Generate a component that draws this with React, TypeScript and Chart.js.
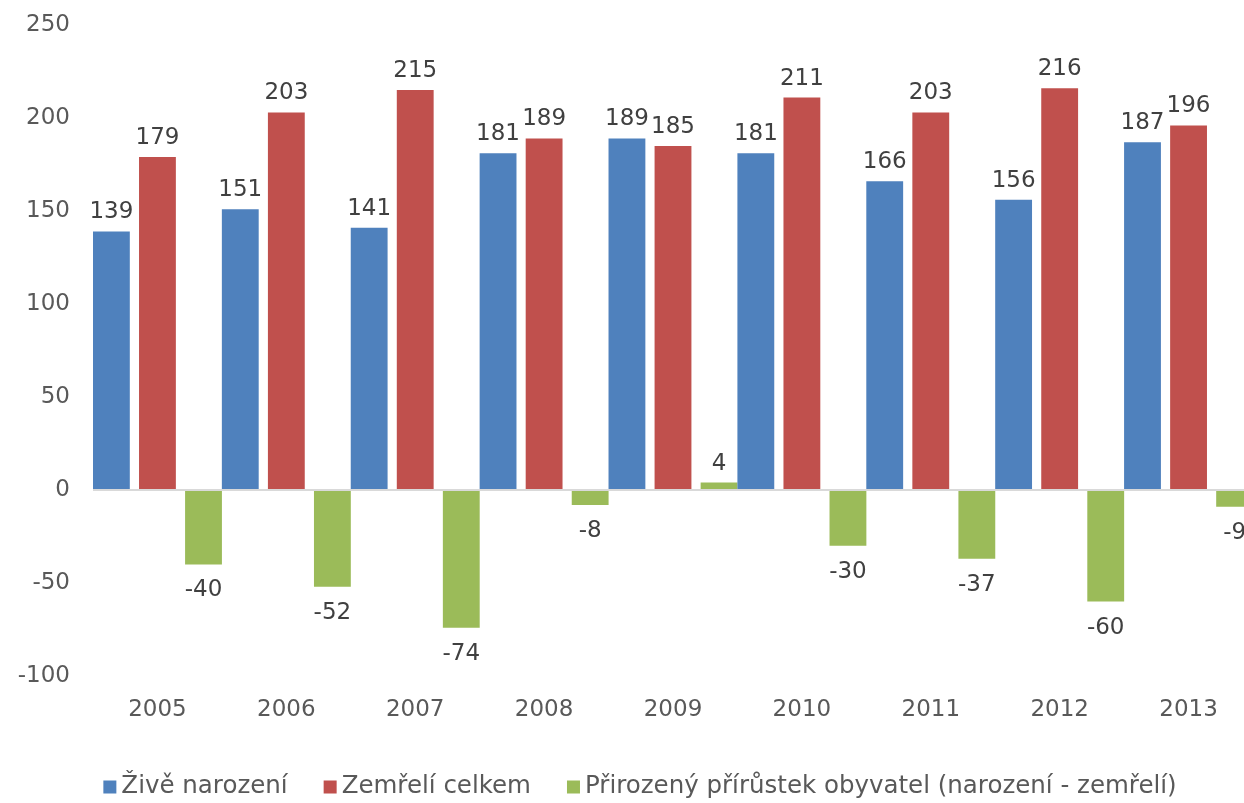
import React, { useEffect, useRef } from "react";
import { Chart, registerables } from "chart.js";

Chart.register(...registerables);

const years = ["2005", "2006", "2007", "2008", "2009", "2010", "2011", "2012", "2013"];
const births = [139, 151, 141, 181, 189, 181, 166, 156, 187];
const deaths = [179, 203, 215, 189, 185, 211, 203, 216, 196];
const naturalIncrease = [-40, -52, -74, -8, 4, -30, -37, -60, -9];
const seriesLabels = [
  "Živě narození",
  "Zemřelí celkem",
  "Přirozený přírůstek obyvatel (narození - zemřelí)",
];
const seriesColors = ["#4F81BD", "#C0504D", "#9BBB59"];
const yMin = -100;
const yMax = 250;
const yStep = 50;

const FONT = "'DejaVu Sans', Verdana, sans-serif";
const FONT_SIZE = 23;
const LEGEND_FONT_SIZE = 24.5;

const dataLabelPlugin = {
  id: "dataLabels",
  afterDatasetsDraw(chart: any) {
    const ctx = chart.ctx;
    ctx.save();
    ctx.font = `${FONT_SIZE}px ${FONT}`;
    ctx.fillStyle = "#404040";
    ctx.textAlign = "center";
    ctx.textBaseline = "alphabetic";
    chart.data.datasets.forEach((ds: any, di: number) => {
      const meta = chart.getDatasetMeta(di);
      meta.data.forEach((bar: any, i: number) => {
        const v = ds.data[i];
        const { x, y } = bar.getProps(["x", "y"], true);
        if (v >= 0) ctx.fillText(String(v), x, y - 13);
        else ctx.fillText(String(v), x, y + 32);
      });
    });
    ctx.restore();
  },
};

const legendPlugin = {
  id: "customLegend",
  afterDraw(chart: any) {
    const ctx = chart.ctx;
    ctx.save();
    ctx.font = `${LEGEND_FONT_SIZE}px ${FONT}`;
    const box = 13;
    const gapText = 5;
    const gapItem = 36;
    const items = chart.data.datasets.map((ds: any) => ({
      label: ds.label,
      color: ds.backgroundColor,
      w: ctx.measureText(ds.label).width,
    }));
    const total =
      items.reduce((s: number, it: any) => s + box + gapText + it.w, 0) +
      gapItem * (items.length - 1);
    let x = 640 - total / 2;
    const cy = 787;
    ctx.textBaseline = "middle";
    ctx.textAlign = "left";
    items.forEach((it: any) => {
      ctx.fillStyle = it.color;
      ctx.fillRect(x, cy - box / 2, box, box);
      x += box + gapText;
      ctx.fillStyle = "#595959";
      ctx.fillText(it.label, x, cy);
      x += it.w + gapItem;
    });
    ctx.restore();
  },
};

export default function App() {
  const canvasRef = useRef<HTMLCanvasElement | null>(null);

  useEffect(() => {
    if (!canvasRef.current) return;
    const chart = new Chart(canvasRef.current, {
      type: "bar",
      data: {
        labels: years,
        datasets: [
          { label: seriesLabels[0], data: births, backgroundColor: seriesColors[0] },
          { label: seriesLabels[1], data: deaths, backgroundColor: seriesColors[1] },
          { label: seriesLabels[2], data: naturalIncrease, backgroundColor: seriesColors[2] },
        ],
      },
      options: {
        responsive: false,
        animation: false,
        devicePixelRatio: 1,
        layout: { padding: { top: 25, left: 0, right: 0, bottom: 0 } },
        datasets: {
          bar: { categoryPercentage: 1.072, barPercentage: 0.8 },
        },
        plugins: {
          legend: { display: false },
          tooltip: { enabled: false },
        },
        scales: {
          x: {
            grid: { display: false },
            border: { display: false },
            ticks: {
              color: "#595959",
              font: { family: FONT, size: FONT_SIZE },
              padding: 12,
              maxRotation: 0,
              autoSkip: false,
            },
            afterFit(scale: any) {
              scale.height = 127;
              scale.paddingLeft = 0;
              scale.paddingRight = 0;
            },
          },
          y: {
            min: yMin,
            max: yMax,
            grid: {
              drawTicks: false,
              lineWidth: 2,
              color: (c: any) => (c.tick && c.tick.value === 0 ? "#D9D9D9" : "rgba(0,0,0,0)"),
            },
            border: { display: false },
            ticks: {
              stepSize: yStep,
              color: "#595959",
              font: { family: FONT, size: FONT_SIZE },
              padding: 23,
              callback: (v: any) => String(v),
            },
            afterFit(scale: any) {
              scale.width = 93;
              scale.paddingTop = 0;
              scale.paddingBottom = 0;
            },
          },
        },
      },
      plugins: [dataLabelPlugin, legendPlugin],
    });
    return () => chart.destroy();
  }, []);

  return (
    <div
      style={{
        position: "fixed",
        left: 0,
        top: 0,
        width: 1244,
        height: 803,
        overflow: "hidden",
        background: "#fff",
      }}
    >
      <canvas ref={canvasRef} width={1253} height={803} style={{ display: "block" }} />
    </div>
  );
}
